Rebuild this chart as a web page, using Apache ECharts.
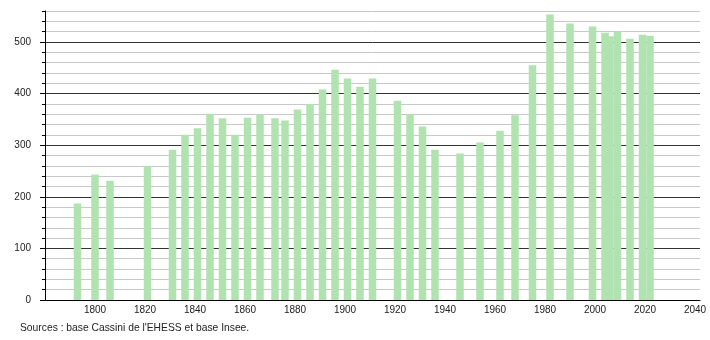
<!DOCTYPE html>
<html>
<head>
<meta charset="utf-8">
<script src="https://cdn.jsdelivr.net/npm/echarts@6/dist/echarts.min.js"></script>
<style>html,body{margin:0;padding:0;background:#fff}#c{width:710px;height:340px}</style>
</head>
<body>
<div id="c"></div>
<script>
const years = [1793,1800,1806,1821,1831,1836,1841,1846,1851,1856,1861,1866,1872,1876,1881,1886,1891,1896,1901,1906,1911,1921,1926,1931,1936,1946,1954,1962,1968,1975,1982,1990,1999,2004,2006,2009,2014,2019,2022];
const population = [187,243,231,260,291,320,333,361,352,320,353,360,352,348,369,380,408,446,429,413,429,386,360,336,291,284,305,328,358,455,553,536,530,518,511,521,506,514,512];
const xTicks = [1800,1820,1840,1860,1880,1900,1920,1940,1960,1980,2000,2020,2040];
const yLabels = [0,100,200,300,400,500];
const yMinorTicks = [0,20,40,60,80,100,120,140,160,180,200,220,240,260,280,300,320,340,360,380,400,420,440,460,480,500,520,540,560];
const sourceText = "Sources : base Cassini de l'EHESS et base Insee.";

const chart = echarts.init(document.getElementById('c'), null, {renderer:'canvas'});
const font = '"Liberation Sans", Arial, sans-serif';
chart.setOption({
  animation: false,
  backgroundColor: '#fff',
  grid: {left: 45, right: 10, top: 11, bottom: 40, containLabel: false},
  xAxis: {
    type: 'value', min: 1780, max: 2042, interval: 20,
    axisLine: {show: true, onZero: false, lineStyle: {color: '#000', width: 1}},
    axisTick: {show: false},
    splitLine: {show: false},
    axisLabel: {customValues: xTicks, formatter: v => String(v), color: '#222', fontFamily: font, fontSize: 10, margin: 5}
  },
  yAxis: [{
    type: 'value', min: 0, max: 560, interval: 20,
    axisLine: {show: true, lineStyle: {color: '#000', width: 1}},
    axisTick: {show: true, customValues: yMinorTicks, length: 3, lineStyle: {color: '#000'}},
    axisLabel: {customValues: yLabels, formatter: v => String(v), color: '#222', fontFamily: font, fontSize: 10, margin: 14},
    splitLine: {show: true, lineStyle: {color: ['#333','#c8c8c8','#c8c8c8','#c8c8c8','#c8c8c8'], width: 1}}
  }, {
    type: 'value', min: 0, max: 560, position: 'left',
    axisLine: {show: false},
    axisTick: {show: true, customValues: yLabels, length: 5, lineStyle: {color: '#000'}},
    axisLabel: {show: false},
    splitLine: {show: false}
  }],
  series: [{
    type: 'bar',
    yAxisIndex: 0,
    barWidth: 7.5,
    itemStyle: {color: '#b0e3b0'},
    data: years.map((y, i) => [y, population[i]])
  }],
  graphic: [{
    type: 'text', left: 20, top: 323,
    style: {text: sourceText, fill: '#222', font: '10.3px ' + font}
  }]
});
</script>
</body>
</html>
